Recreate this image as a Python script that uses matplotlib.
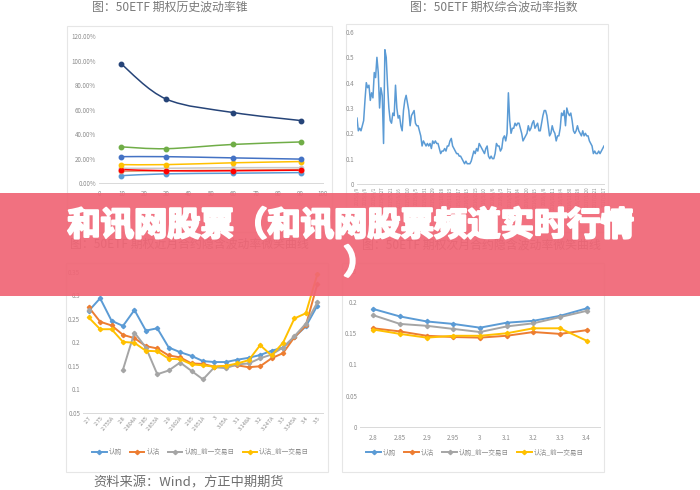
import matplotlib
matplotlib.use("Agg")
import matplotlib.pyplot as plt
from matplotlib.patches import Rectangle, PathPatch
from matplotlib.path import Path
import matplotlib.patheffects as pe
import numpy as np

plt.rcParams['font.family'] = ['Noto Sans CJK SC', 'DejaVu Sans']

# ---------------- data ----------------
# Panel 1: historical volatility cone (%)
cone_days = [10, 30, 60, 90]
cone_navy = [97.0, 68.5, 57.5, 51.0]
cone_green = [29.5, 28.0, 31.5, 33.5]
cone_blue = [21.5, 21.5, 20.5, 19.5]
cone_yellow = [15.0, 15.0, 16.5, 17.5]
cone_gray = [12.0, 12.0, 12.5, 12.5]
cone_tan = [9.5, 10.0, 10.5, 11.0]
cone_red = [11.0, 10.0, 10.0, 10.5]
cone_lightblue = [6.0, 7.5, 8.0, 8.5]
cone_yticks = [0, 20, 40, 60, 80, 100, 120]
cone_xticks = [0, 10, 20, 30, 40, 50, 60, 70, 80, 90, 100]

# Panel 2: composite volatility index
vix_values = [
    0.26, 0.21, 0.22, 0.21, 0.23, 0.25, 0.33, 0.40, 0.38, 0.39,
    0.33, 0.36, 0.34, 0.44, 0.42, 0.50, 0.44, 0.30, 0.38, 0.35,
    0.16, 0.53, 0.50, 0.39, 0.30, 0.25, 0.24, 0.28, 0.27, 0.39,
    0.30, 0.26, 0.27, 0.23, 0.21, 0.29, 0.33, 0.35, 0.32, 0.29,
    0.23, 0.27, 0.28, 0.29, 0.24, 0.23, 0.23, 0.21, 0.19, 0.15,
    0.17, 0.16, 0.15, 0.16, 0.15, 0.16, 0.14, 0.17, 0.16, 0.17,
    0.16, 0.16, 0.14, 0.12, 0.13, 0.13, 0.14, 0.13, 0.15, 0.15,
    0.17, 0.18, 0.15, 0.14, 0.13, 0.12, 0.12, 0.11, 0.11, 0.10,
    0.09, 0.08, 0.09, 0.08, 0.08, 0.08, 0.09, 0.11, 0.13, 0.12,
    0.14, 0.13, 0.16, 0.15, 0.14, 0.13, 0.12, 0.14, 0.15, 0.11,
    0.10, 0.11, 0.10, 0.10, 0.12, 0.16, 0.15, 0.15, 0.13, 0.14,
    0.18, 0.19, 0.17, 0.20, 0.36, 0.25, 0.20, 0.22, 0.22, 0.24,
    0.23, 0.24, 0.24, 0.22, 0.20, 0.17, 0.18, 0.19, 0.20, 0.23,
    0.21, 0.22, 0.24, 0.25, 0.22, 0.23, 0.24, 0.21, 0.21, 0.24,
    0.27, 0.29, 0.29, 0.27, 0.23, 0.19, 0.20, 0.23, 0.21, 0.20,
    0.17, 0.19, 0.19, 0.22, 0.28, 0.27, 0.29, 0.23, 0.30, 0.28,
    0.27, 0.28, 0.25, 0.21, 0.20, 0.21, 0.23, 0.21, 0.20, 0.19,
    0.21, 0.19, 0.20, 0.19, 0.19, 0.17, 0.16, 0.15, 0.12, 0.13,
    0.12, 0.12, 0.13, 0.12, 0.13, 0.14, 0.15,
]
vix_dates = [
    "2015/2/9", "2015/3/6", "2015/4/1", "2015/4/27", "2015/5/21", "2015/6/16",
    "2015/7/10", "2015/8/5", "2015/8/31", "2015/9/29", "2015/10/28", "2015/11/23",
    "2015/12/17", "2016/1/13", "2016/2/15", "2016/3/10", "2016/4/6", "2016/5/3",
    "2016/5/27", "2016/6/24", "2016/7/20", "2016/8/15", "2016/9/8", "2016/10/11",
    "2016/11/4", "2016/11/30", "2016/12/26", "2017/1/20", "2017/2/21", "2017/3/17",
]
vix_yticks = [0, 0.1, 0.2, 0.3, 0.4, 0.5, 0.6]
vix_yticklabels = ["0", "0.1", "0.2", "0.3", "0.4", "0.5", "0.6"]

# Panel 3: near-month smile
near_strikes = ["2.7", "2.75", "2.755A", "2.8", "2.804A", "2.85", "2.853A", "2.9",
                "2.902A", "2.95", "2.951A", "3", "3.05A", "3.1", "3.148A", "3.2",
                "3.247A", "3.3", "3.345A", "3.4", "3.5"]
near_call = [0.267, 0.294, 0.246, 0.235, 0.269, 0.225, 0.230, 0.189, 0.179, 0.171,
             0.160, 0.158, 0.158, 0.163, 0.167, 0.173, 0.182, 0.189, 0.211, 0.234, 0.278]
near_put = [0.275, 0.244, 0.236, 0.216, 0.209, 0.192, 0.187, 0.172, 0.168, 0.155,
            0.154, 0.148, 0.150, 0.151, 0.147, 0.149, 0.166, 0.177, 0.211, 0.236, 0.324]
near_call_prev = [0.270, np.nan, np.nan, 0.142, 0.221, 0.189, 0.132, 0.140, 0.157, 0.139,
                  0.121, 0.147, 0.145, 0.153, 0.155, 0.166, 0.174, 0.189, 0.213, 0.240, 0.285]
near_put_prev = [0.253, 0.228, 0.228, 0.201, 0.199, 0.182, 0.181, 0.165, 0.164, 0.153,
                 0.151, 0.148, 0.150, 0.155, 0.162, 0.194, 0.172, 0.199, 0.251, 0.262, 0.345]
near_yticks = [0.05, 0.1, 0.15, 0.2, 0.25, 0.3, 0.35]
near_yticklabels = ["0.05", "0.1", "0.15", "0.2", "0.25", "0.3", "0.35"]

# Panel 4: next-month smile
next_strikes = ["2.8", "2.85", "2.9", "2.95", "3", "3.1", "3.2", "3.3", "3.4"]
next_call = [0.189, 0.177, 0.169, 0.165, 0.159, 0.167, 0.170, 0.178, 0.190]
next_put = [0.158, 0.153, 0.146, 0.144, 0.143, 0.146, 0.152, 0.149, 0.155]
next_call_prev = [0.179, 0.165, 0.162, 0.157, 0.152, 0.161, 0.166, 0.176, 0.186]
next_put_prev = [0.156, 0.149, 0.143, 0.146, 0.146, 0.150, 0.158, 0.158, 0.138]
next_yticks = [0, 0.05, 0.1, 0.15, 0.2, 0.25]
next_yticklabels = ["0", "0.05", "0.1", "0.15", "0.2", "0.25"]

series_names = ["认购", "认沽", "认购_前一交易日", "认沽_前一交易日"]

# ---------------- styling ----------------
W, H = 700, 490
C_BLUE, C_ORANGE, C_GRAY, C_YELLOW = "#5B9BD5", "#ED7D31", "#A5A5A5", "#FFC000"
TICK_C = "#8C8C8C"
AXIS_C = "#D9D9D9"
TITLE_C = "#7A7A7A"

fig = plt.figure(figsize=(7, 4.9), dpi=100)
fig.patch.set_facecolor("white")


def px_axes(x0, y0, x1, y1):
    ax = fig.add_axes([x0 / W, 1 - y1 / H, (x1 - x0) / W, (y1 - y0) / H])
    ax.set_facecolor("none")
    ax.set_zorder(5)
    for s in ["top", "right", "left"]:
        ax.spines[s].set_visible(False)
    ax.spines["bottom"].set_color(AXIS_C)
    ax.spines["bottom"].set_linewidth(0.7)
    ax.tick_params(length=0, colors=TICK_C, labelsize=4.5, pad=2)
    return ax


def px_box(x0, y0, x1, y1):
    fig.patches.append(Rectangle((x0 / W, 1 - y1 / H), (x1 - x0) / W, (y1 - y0) / H,
                                 transform=fig.transFigure, facecolor="white",
                                 edgecolor="#E6E6E6", linewidth=0.8, zorder=-1))


def px_text(x, y, s, **kw):
    return fig.text(x / W, 1 - y / H, s, **kw)


def smooth_line(ax, xs, ys, color, lw):
    pts = np.column_stack([xs, ys]).astype(float)
    n = len(pts)
    verts = [pts[0]]
    codes = [Path.MOVETO]
    for i in range(n - 1):
        p0 = pts[max(i - 1, 0)]
        p1 = pts[i]
        p2 = pts[i + 1]
        p3 = pts[min(i + 2, n - 1)]
        c1 = p1 + (p2 - p0) / 6.0
        c2 = p2 - (p3 - p1) / 6.0
        verts += [c1, c2, p2]
        codes += [Path.CURVE4] * 3
    ax.add_patch(PathPatch(Path(verts, codes), facecolor="none", edgecolor=color,
                           linewidth=lw, zorder=3))


# panel boxes
px_box(67, 26, 332, 232)
px_box(346, 24, 608, 232)
px_box(66, 263, 328, 472)
px_box(342, 263, 604, 472)

# titles
tkw = dict(color=TITLE_C, fontsize=8.6, ha="center", va="center")
px_text(170, 7, "图：50ETF 期权历史波动率锥", **tkw)
px_text(494, 7, "图：50ETF 期权综合波动率指数", **tkw)
px_text(189, 245, "图：50ETF 期权近月合约隐含波动率微笑曲线", **tkw)
px_text(481, 245, "图：50ETF 期权次月合约隐含波动率微笑曲线", **tkw)

# ---- Panel 1 ----
ax1 = px_axes(99, 36, 323, 183)
ax1.set_xlim(0, 100)
ax1.set_ylim(0, 120)
ax1.set_xticks(cone_xticks)
ax1.set_yticks(cone_yticks)
ax1.set_yticklabels([f"{v:.2f}%" for v in cone_yticks])
ax1.set_xticklabels([str(v) for v in cone_xticks])
ax1.tick_params(axis="x", pad=5)
cone_series = [
    (cone_lightblue, "#5B9BD5"), (cone_tan, "#D9A07A"), (cone_gray, "#C9C9C9"),
    (cone_red, "#FF0000"), (cone_yellow, "#FFC000"), (cone_blue, "#4472C4"),
    (cone_green, "#70AD47"), (cone_navy, "#264478"),
]
for ys, c in cone_series:
    smooth_line(ax1, cone_days, ys, c, 1.1)
    ax1.plot(cone_days, ys, linestyle="none", marker="o", markersize=3.2,
             color=c, zorder=4)

# ---- Panel 2 ----
ax2 = px_axes(357, 32, 604, 184)
n = len(vix_values)
ax2.plot(np.arange(n), vix_values, color=C_BLUE, linewidth=1.1)
ax2.set_xlim(0, n - 1)
ax2.set_ylim(0, 0.6)
ax2.set_yticks(vix_yticks)
ax2.set_yticklabels(vix_yticklabels)
tick_pos = np.linspace(0, n - 1, len(vix_dates))
ax2.set_xticks(tick_pos)
ax2.set_xticklabels(vix_dates, rotation=90, fontsize=3.2)

# ---- Panel 3 ----
ax3 = px_axes(83, 272, 323, 412.7)
xi = np.arange(len(near_strikes))
for name, ys, c in [(series_names[0], near_call, C_BLUE),
                    (series_names[1], near_put, C_ORANGE),
                    (series_names[2], near_call_prev, C_GRAY),
                    (series_names[3], near_put_prev, C_YELLOW)]:
    ax3.plot(xi, ys, color=c, linewidth=1.4, marker="D", markersize=2.2, label=name)
ax3.set_xlim(-0.5, len(near_strikes) - 0.5)
ax3.set_ylim(0.05, 0.35)
ax3.set_yticks(near_yticks)
ax3.set_yticklabels(near_yticklabels)
ax3.set_xticks(xi)
ax3.set_xticklabels(near_strikes, rotation=50, ha="right", rotation_mode="anchor",
                    fontsize=4)
ax3.legend(loc="center", bbox_to_anchor=(0.49, (412.7 - 452) / 140.7), ncol=4,
           frameon=False, fontsize=4.8, labelcolor=TICK_C, handlelength=2.2,
           columnspacing=1.2, handletextpad=0.3)

# ---- Panel 4 ----
ax4 = px_axes(360, 271, 600, 426.7)
xj = np.arange(len(next_strikes))
for name, ys, c in [(series_names[0], next_call, C_BLUE),
                    (series_names[1], next_put, C_ORANGE),
                    (series_names[2], next_call_prev, C_GRAY),
                    (series_names[3], next_put_prev, C_YELLOW)]:
    ax4.plot(xj, ys, color=c, linewidth=1.4, marker="D", markersize=2.2, label=name)
ax4.set_xlim(-0.5, len(next_strikes) - 0.5)
ax4.set_ylim(0, 0.25)
ax4.set_yticks(next_yticks)
ax4.set_yticklabels(next_yticklabels)
ax4.set_xticks(xj)
ax4.set_xticklabels(next_strikes, fontsize=4.5)
ax4.tick_params(axis="x", pad=5)
ax4.legend(loc="center", bbox_to_anchor=(0.48, (426.7 - 452.5) / 155.7), ncol=4,
           frameon=False, fontsize=4.8, labelcolor=TICK_C, handlelength=2.2,
           columnspacing=1.2, handletextpad=0.3)

# source note
px_text(93, 483, "资料来源：Wind，方正中期期货", color="#6E6E6E", fontsize=9.5,
        ha="left", va="center", style="italic")

# ---- banner overlay ----
banner = Rectangle((0, 1 - 296 / H), 1, (296 - 193) / H,
                   transform=fig.transFigure, facecolor="#F06676",
                   edgecolor="none", alpha=0.93, zorder=20)
fig.patches.append(banner)
thick = [pe.withStroke(linewidth=1.6, foreground="white")]
t1 = px_text(351, 226, "和讯网股票（和讯网股票频道实时行情", color="white", fontsize=24,
             fontweight="bold", ha="center", va="center", zorder=21)
t2 = px_text(360, 264, "）", color="white", fontsize=24, fontweight="bold",
             ha="center", va="center", zorder=21)
t1.set_path_effects(thick)
t2.set_path_effects(thick)

fig.savefig("out.png", dpi=100, facecolor="white")
